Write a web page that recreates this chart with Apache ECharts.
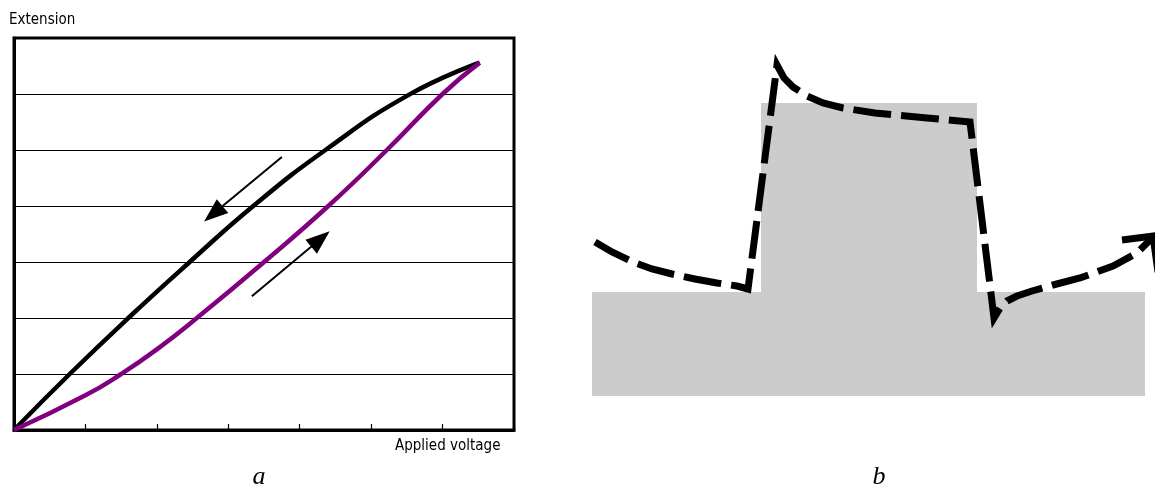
<!DOCTYPE html>
<html>
<head>
<meta charset="utf-8">
<script src="https://cdn.jsdelivr.net/npm/echarts@6/dist/echarts.min.js"></script>
<style>
  html, body { margin: 0; padding: 0; background: #fff; }
  #chart { width: 1155px; height: 487px; }
</style>
</head>
<body>
<div id="chart"></div>
<script>
// ---- Panel a: extension versus applied voltage (arbitrary units) ----
const voltageRange = [0, 7];
const extensionRange = [0, 7];
// branch traced while the voltage is lowered (upper curve)
const descendingBranch = [
  [0, 0], [0.78, 1], [1.6, 2], [2.46, 3], [3.35, 4], [4.36, 5], [5.52, 5.98], [6.52, 6.56]
];
// branch traced while the voltage is raised (lower curve)
const ascendingBranch = [
  [0, 0], [1.0, 0.62], [1.5, 1.0], [2.0, 1.44], [2.56, 2], [3.5, 3],
  [4.4, 4], [5.22, 5], [6.0, 6], [6.52, 6.56]
];
// direction arrows: [tail, head]
const directionArrows = [
  [[3.75, 4.875], [2.79, 3.86]],
  [[3.33, 2.39], [4.29, 3.41]]
];

// ---- Panel b: step profile and the dashed trajectory over it ----
const profileRange = { x: [0, 563], y: [0, 356] };
const profile = [[0, 104], [169, 104], [169, 293], [385, 293], [385, 104], [553, 104]];
const trajectory = [
  [3, 154], [20, 144], [41, 134], [60, 127], [80, 122], [103, 117], [125, 113], [145, 110], [156, 107],
  [185, 331],
  [192, 318], [201, 309], [215, 300], [231, 293], [251, 288], [283, 283], [335, 278], [378, 274],
  [402, 78],
  [408, 88], [415, 95], [425, 100], [440, 105], [461, 111], [488, 118], [521, 130], [545, 143], [561, 159]
];
const trajectoryHead = [[530, 156], [561, 160], [566, 124]];

const labelFont = '"DejaVu Sans Condensed", "DejaVu Sans", sans-serif';
const panelFont = '"Liberation Serif", "DejaVu Serif", serif';

const chart = echarts.init(document.getElementById('chart'), null, { renderer: 'canvas' });

chart.setOption({
  animation: false,
  backgroundColor: '#ffffff',
  grid: [
    { left: 14, top: 38, width: 500, height: 392, show: true, borderColor: '#000', borderWidth: 3, backgroundColor: 'transparent' },
    { left: 592, top: 40, width: 563, height: 356, show: false }
  ],
  xAxis: [
    {
      gridIndex: 0, type: 'value', min: voltageRange[0], max: voltageRange[1], interval: 1,
      axisLine: { show: true, onZero: false, lineStyle: { color: '#000', width: 3 } },
      axisTick: { show: true, inside: true, length: 6, lineStyle: { color: '#000', width: 1.2 } },
      axisLabel: { show: false },
      splitLine: { show: false }
    },
    {
      gridIndex: 1, type: 'value', min: profileRange.x[0], max: profileRange.x[1], show: false
    }
  ],
  yAxis: [
    {
      gridIndex: 0, type: 'value', min: extensionRange[0], max: extensionRange[1], interval: 1,
      axisLine: { show: true, onZero: false, lineStyle: { color: '#000', width: 3 } },
      axisTick: { show: false },
      axisLabel: { show: false },
      splitLine: { show: true, lineStyle: { color: '#000', width: 1 } }
    },
    {
      gridIndex: 1, type: 'value', min: profileRange.y[0], max: profileRange.y[1], show: false
    }
  ],
  series: [
    {
      name: 'Voltage decreasing', type: 'line', xAxisIndex: 0, yAxisIndex: 0,
      data: descendingBranch, smooth: 0.5, symbol: 'none',
      lineStyle: { color: '#000000', width: 4.5 },
      markLine: {
        silent: true, symbol: ['none', 'triangle'], symbolSize: [18, 24],
        lineStyle: { color: '#000', width: 2, type: 'solid' },
        label: { show: false },
        data: directionArrows.map(a => [{ coord: a[0] }, { coord: a[1] }])
      }
    },
    {
      name: 'Voltage increasing', type: 'line', xAxisIndex: 0, yAxisIndex: 0,
      data: ascendingBranch, smooth: 0.5, symbol: 'none',
      lineStyle: { color: '#800080', width: 4.5 }
    },
    {
      name: 'Profile', type: 'line', xAxisIndex: 1, yAxisIndex: 1,
      data: profile, symbol: 'none', smooth: false,
      lineStyle: { width: 0 },
      areaStyle: { color: '#cccccc', opacity: 1, origin: 'start' }
    },
    {
      name: 'Trajectory', type: 'line', xAxisIndex: 1, yAxisIndex: 1,
      data: trajectory, symbol: 'none', smooth: false, clip: false,
      lineStyle: { color: '#000', width: 7, type: [38, 10], cap: 'butt', join: 'miter', miterLimit: 10 }
    },
    {
      name: 'Trajectory head', type: 'line', xAxisIndex: 1, yAxisIndex: 1,
      data: trajectoryHead, symbol: 'none', smooth: false, clip: false,
      lineStyle: { color: '#000', width: 7, cap: 'butt', join: 'miter' }
    }
  ],
  graphic: [
    { type: 'text', x: 9, y: 20, style: { text: 'Extension', fontSize: 15, fontFamily: labelFont, fill: '#000', align: 'left', verticalAlign: 'middle' } },
    { type: 'text', x: 395, y: 446, style: { text: 'Applied voltage', fontSize: 15, fontFamily: labelFont, fill: '#000', align: 'left', verticalAlign: 'middle' } },
    { type: 'text', x: 259, y: 477, style: { text: 'a', fontSize: 26, fontStyle: 'italic', fontFamily: panelFont, fill: '#000', align: 'center', verticalAlign: 'middle' } },
    { type: 'text', x: 879, y: 477, style: { text: 'b', fontSize: 26, fontStyle: 'italic', fontFamily: panelFont, fill: '#000', align: 'center', verticalAlign: 'middle' } }
  ]
});
</script>
</body>
</html>
